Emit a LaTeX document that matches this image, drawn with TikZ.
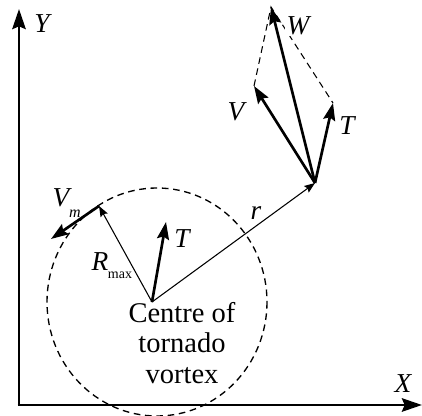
\documentclass[tikz,border=0pt]{standalone}
\usepackage{fontspec}
\setmainfont{Liberation Serif}
\usetikzlibrary{arrows.meta}
\tikzset{
  axis/.style={line width=2.2pt,-{Stealth[length=15pt,width=10pt,inset=2pt]}},
  vec/.style={line width=2pt,-{Stealth[length=13pt,width=9pt,inset=2pt]}},
  thinvec/.style={line width=0.8pt,-{Stealth[length=8pt,width=6pt,inset=1.2pt]}},
  guide/.style={line width=0.8pt,dash pattern=on 5pt off 3.5pt},
  lab/.style={font=\fontsize{20.5}{22}\selectfont\itshape,inner sep=0pt},
  sub/.style={font=\fontsize{10.5}{12}\selectfont,inner sep=0pt},
}
\begin{document}
\begin{tikzpicture}[x=0.75pt,y=-0.75pt]
\useasboundingbox (0,0) rectangle (422,416);
% circle
\draw[guide,line width=1pt] (157,302) ellipse [x radius=110, y radius=114];
% axes
\coordinate (orig) at (19,405);
\coordinate (ytip) at (19,9);
\coordinate (xtip) at (422,405);
\draw[axis] (orig) -- (ytip);
\draw[axis] ([xshift=-1.1pt]orig) -- (xtip);
\node[lab] (Y) at (42,24) {Y};
\node[lab] (X) at (403,384) {X};
% vortex centre
\coordinate (C) at (152,302);
\coordinate (Rm) at (99,206);
\coordinate (Vm) at (51,239);
\coordinate (T1) at (166,222);
\coordinate (P) at (315,183);
\coordinate (V) at (254,86);
\coordinate (T2) at (333,103);
\coordinate (W) at (271,7);
% parallelogram guides
\draw[guide] (V) -- (W) -- (T2);
% vectors
\draw[thinvec] (C) -- (Rm);
\draw[vec] (Rm) -- (Vm);
\draw[vec] (C) -- (T1);
\draw[thinvec] (C) -- (P);
\draw[vec] (P) -- (V);
\draw[vec] (P) -- (T2);
\draw[vec] (P) -- (W);
% labels
\node[lab,fill=white,inner sep=1pt] (Wl) at (298,26) {W};
\node[lab] (Vl) at (236,112) {V};
\node[lab] (T2l) at (347,126) {T};
\node[lab] (rl) at (256,213) {r};
\node[lab] (T1l) at (182,239) {T};
\node[lab] (Vml) at (61,198) {V};
\node[sub,font=\fontsize{12}{13}\selectfont\itshape] (Vms) at (75,214) {m};
\node[lab] (Rl) at (100,262) {R};
\node[sub] (Rs) at (120,275) {max};
\node[font=\fontsize{21.4}{22.9}\selectfont,align=center,inner sep=0pt,anchor=north] (txt) at (182,302)
  {Centre of\\tornado\\vortex};
\end{tikzpicture}
\end{document}
